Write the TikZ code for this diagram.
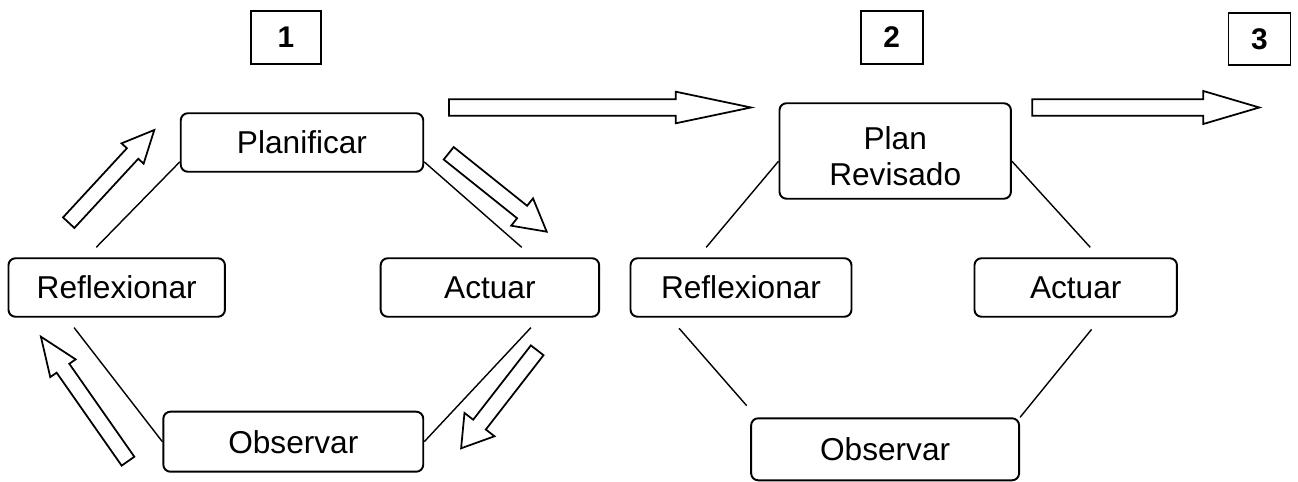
\documentclass[tikz,border=0pt]{standalone}
\usepackage{fontspec}
\setmainfont{Liberation Sans}
\usetikzlibrary{calc}

% hollow block arrow: tail, tip, shaft half width, head half width, head length
\newcommand{\hollowarrow}[5]{%
  \coordinate (ha) at ($(#2)!#5!(#1)$);
  \draw[hollow] ($(#1)!#3!90:(#2)$) -- ($(ha)!#3!90:(#2)$) -- ($(ha)!#4!90:(#2)$) -- (#2)
    -- ($(ha)!#4!-90:(#2)$) -- ($(ha)!#3!-90:(#2)$) -- ($(#1)!#3!-90:(#2)$) -- cycle;}

\begin{document}
\begin{tikzpicture}[x=0.02cm,y=-0.02cm,
stage/.style={draw,rounded corners=4pt,line width=1.1pt,align=center,inner sep=0pt,
  font=\fontsize{18}{20.5}\selectfont},
num/.style={draw,line width=1.1pt,inner sep=0pt,minimum height=1.07cm,
  font=\fontsize{17}{20}\selectfont\bfseries},
link/.style={line width=0.8pt},
hollow/.style={line width=1pt,fill=white,line join=miter}]
\useasboundingbox (0,0) rectangle (1298,482);

% Cycle numbers
  \node[num,minimum width=1.41cm] (uno) at (286,37.5) {1};
  \node[num,minimum width=1.24cm] (dos) at (891.7,37.5) {2};
  \node[num,minimum width=1.24cm,minimum height=1.05cm] (tres) at (1259.5,38.9) {3};

% First cycle
  \node[stage,minimum width=4.85cm,minimum height=1.17cm] (plan) at (302,142.5) {Planificar};
  \node[stage,minimum width=4.33cm,minimum height=1.17cm] (refl) at (116.7,287.5) {Reflexionar};
  \node[stage,minimum width=4.37cm,minimum height=1.17cm] (act) at (489.9,287.5) {Actuar};
  \node[stage,minimum width=5.2cm,minimum height=1.2cm] (obs) at (293.3,441.7) {Observar};

  \path[link]
    (plan.189) edge[shorten >=0.28cm] (refl.135.5)
    (plan.351) edge[shorten >=0.30cm] (act.35.8)
    (refl.211.6) edge[shorten <=0.25cm] (obs.west)
    (act.329) edge[shorten <=0.27cm] (obs.east);

% Second cycle
  \node[stage,minimum width=4.63cm,minimum height=1.91cm] (rev) at (895.2,151) {\rule{0pt}{18.8pt}Plan\\Revisado};
  \node[stage,minimum width=4.42cm,minimum height=1.17cm] (refl2) at (741,287.5) {Reflexionar};
  \node[stage,minimum width=4.05cm,minimum height=1.17cm] (act2) at (1075.7,287.5) {Actuar};
  \node[stage,minimum width=5.36cm,minimum height=1.24cm] (obs2) at (885.1,449.3) {Observar};

  \path[link]
    (rev.185) edge[shorten >=0.26cm] (refl2.145.6)
    (rev.355) edge[shorten >=0.27cm] (act2.52.6)
    (refl2.203.3) edge[shorten <=0.28cm,shorten >=0.31cm] (obs2.166.1)
    (act2.310.1) edge[shorten <=0.30cm] (obs2.north east);

% Block arrows
  \coordinate (a1t) at (449,107.5);    \coordinate (a1p) at (751,107.5);
  \coordinate (a2t) at (1032.3,107.5); \coordinate (a2p) at (1259.3,107.5);
  \coordinate (aAt) at (68.7,222.7);   \coordinate (aAp) at (154.3,130);
  \coordinate (aBt) at (448.7,153.3);  \coordinate (aBp) at (546.7,231.7);
  \coordinate (aCt) at (537.2,350.3);  \coordinate (aCp) at (461.1,448.3);
  \coordinate (aDt) at (128,461.2);    \coordinate (aDp) at (40.9,336.7);

  \hollowarrow{a1t}{a1p}{0.164cm}{0.316cm}{1.506cm}
  \hollowarrow{a2t}{a2p}{0.164cm}{0.33cm}{1.12cm}
  \hollowarrow{aAt}{aAp}{0.155cm}{0.30cm}{0.64cm}
  \hollowarrow{aBt}{aBp}{0.16cm}{0.35cm}{0.63cm}
  \hollowarrow{aCt}{aCp}{0.16cm}{0.38cm}{0.60cm}
  \hollowarrow{aDt}{aDp}{0.155cm}{0.31cm}{0.77cm}

\end{tikzpicture}
\end{document}
